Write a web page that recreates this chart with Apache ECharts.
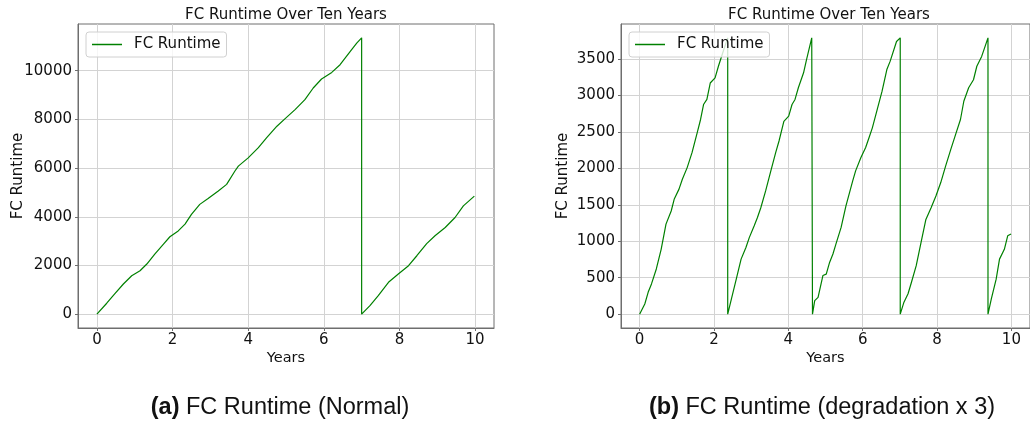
<!DOCTYPE html>
<html>
<head>
<meta charset="utf-8">
<script src="https://cdn.jsdelivr.net/npm/echarts@6/dist/echarts.min.js"></script>
<style>
  html, body { margin: 0; padding: 0; background: #fff; overflow: hidden; }
  #chart { width: 1030px; height: 426px; }
</style>
</head>
<body>
<div id="chart"></div>
<script>
// (a) normal
const yearsA = [0, 0.26, 0.47, 0.70, 0.92, 1.14, 1.32, 1.53, 1.76, 1.93, 2.15, 2.33, 2.50, 2.72, 2.94,
  3.21, 3.43, 3.65, 3.74, 4.0, 4.27, 4.49, 4.76, 4.97, 5.24, 5.50, 5.72, 5.94, 6.21, 6.43,
  6.70, 6.87, 7.0, 7.0, 7.22, 7.44, 7.71, 7.97, 8.24, 8.46, 8.72, 8.94, 9.21, 9.47, 9.69, 9.98]
const runtimeA = [0, 450, 830, 1240, 1580, 1785, 2060, 2470, 2880, 3180, 3420, 3700, 4100, 4510, 4750,
  5060, 5330, 5880, 6080, 6420, 6840, 7250, 7720, 8020, 8400, 8810, 9290, 9660, 9930, 10245,
  10790, 11130, 11350, 0, 350, 760, 1310, 1650, 1990, 2400, 2900, 3220, 3560, 3970, 4450, 4850]

// (b) degradation x 3
const yearsB = [0, 0.14, 0.23, 0.32, 0.45, 0.58, 0.71, 0.85, 0.93, 1.06, 1.15, 1.28, 1.41, 1.55, 1.64,
  1.72, 1.81, 1.90, 2.03, 2.12, 2.25, 2.37, 2.37,
  2.47, 2.60, 2.73, 2.86, 2.95, 3.08, 3.17, 3.26, 3.39, 3.53, 3.66, 3.75, 3.88, 4.01, 4.10, 4.18,
  4.27, 4.41, 4.49, 4.63, 4.65, 4.65,
  4.71, 4.80, 4.93, 5.02, 5.11, 5.20, 5.28, 5.42, 5.55, 5.73, 5.81, 5.95, 6.08, 6.17, 6.26, 6.39,
  6.52, 6.65, 6.74, 6.91, 7.01, 7.01,
  7.11, 7.22, 7.31, 7.44, 7.57, 7.70, 7.84, 7.97, 8.10, 8.23, 8.37, 8.50, 8.63, 8.72, 8.85, 8.98,
  9.07, 9.20, 9.29, 9.37, 9.37,
  9.46, 9.59, 9.68, 9.81, 9.90, 9.99]
const runtimeB = [0, 140, 300, 415, 620, 890, 1235, 1415, 1575, 1715, 1850, 2010, 2215, 2490, 2670,
  2875, 2945, 3170, 3240, 3400, 3605, 3790, 0,
  210, 480, 755, 915, 1050, 1210, 1325, 1460, 1690, 1965, 2215, 2375, 2645, 2715, 2875, 2945,
  3105, 3310, 3490, 3790, 3790, 0,
  185, 230, 530, 550, 710, 825, 960, 1190, 1485, 1825, 1965, 2145, 2285, 2420, 2555, 2805,
  3055, 3355, 3470, 3740, 3790, 0,
  165, 280, 435, 665, 985, 1300, 1460, 1620, 1805, 2030, 2260, 2465, 2670, 2920, 3105, 3215,
  3400, 3535, 3670, 3790, 0,
  210, 480, 755, 890, 1075, 1100]

const yearTicks = [0, 2, 4, 6, 8, 10]
const runtimeTicksA = [0, 2000, 4000, 6000, 8000, 10000]
const runtimeTicksB = [0, 500, 1000, 1500, 2000, 2500, 3000, 3500]

const chartTitle = 'FC Runtime Over Ten Years'
const seriesName = 'FC Runtime'

const font = 'DejaVu Sans'
const lineColor = '#008000'
const gridColor = '#d3d3d3'
const frameColor = '#6e6e6e'

const zip = (xs, ys) => xs.map((x, i) => [x, ys[i]])

const xAxisOf = (gridIndex) => ({
  type: 'value', gridIndex, min: -0.5, max: 10.5,
  name: 'Years', nameLocation: 'middle', nameGap: 23, nameMoveOverlap: false,
  nameTextStyle: { fontFamily: font, fontSize: 14.5, color: '#111' },
  axisLine: { show: true, onZero: false, lineStyle: { color: frameColor } },
  axisTick: { show: true, length: 3, customValues: yearTicks, lineStyle: { color: frameColor } },
  axisLabel: { customValues: yearTicks, margin: 5, fontFamily: font, fontSize: 15, color: '#111',
    formatter: v => String(v) },
  splitLine: { show: true, lineStyle: { color: gridColor, width: 1 } }
})

const yAxisOf = (gridIndex, min, max, ticks, gap) => ({
  type: 'value', gridIndex, min, max,
  name: 'FC Runtime', nameLocation: 'middle', nameGap: gap, nameMoveOverlap: false,
  nameTextStyle: { fontFamily: font, fontSize: 15, color: '#111' },
  axisLine: { show: true, onZero: false, lineStyle: { color: frameColor } },
  axisTick: { show: true, length: 3, customValues: ticks, lineStyle: { color: frameColor } },
  axisLabel: { customValues: ticks, margin: 6, fontFamily: font, fontSize: 15, color: '#111',
    formatter: v => String(v) },
  splitLine: { show: true, lineStyle: { color: gridColor, width: 1 } }
})

const legendAt = (left) => ({
  left, top: 32, z: 20, data: [seriesName],
  icon: 'rect', itemWidth: 30, itemHeight: 1.5,
  padding: [5, 6, 5, 6],
  backgroundColor: 'rgba(255,255,255,0.8)',
  borderColor: '#d0d0d0', borderWidth: 1, borderRadius: 3,
  textStyle: { fontFamily: font, fontSize: 15, color: '#111', padding: [0, 0, 0, 7] }
})

const textAt = (x, y, text, size, family, rich) => ({
  type: 'text', x, y, silent: true,
  style: {
    text, fontSize: size, fontFamily: family, fill: '#111',
    align: 'center', verticalAlign: 'middle', rich
  }
})

const captionRich = { b: { fontWeight: 'bold', fontSize: 23.5, fontFamily: 'Liberation Sans', fill: '#111' } }

const chart = echarts.init(document.getElementById('chart'), null, { renderer: 'canvas' })

chart.setOption({
  animation: false,
  grid: [
    { left: 78, top: 24, width: 416, height: 304, show: true, borderColor: frameColor, borderWidth: 1 },
    { left: 621, top: 24, width: 417, height: 304, show: true, borderColor: frameColor, borderWidth: 1 }
  ],
  xAxis: [xAxisOf(0), xAxisOf(1)],
  yAxis: [
    yAxisOf(0, -567.5, 11917.5, runtimeTicksA, 52),
    yAxisOf(1, -189.5, 3979.5, runtimeTicksB, 50)
  ],
  legend: [legendAt(86), legendAt(629)],
  series: [
    {
      name: seriesName, type: 'line', xAxisIndex: 0, yAxisIndex: 0,
      data: zip(yearsA, runtimeA), showSymbol: false, symbol: 'none',
      itemStyle: { color: lineColor }, lineStyle: { color: lineColor, width: 1.2 }
    },
    {
      name: seriesName, type: 'line', xAxisIndex: 1, yAxisIndex: 1,
      data: zip(yearsB, runtimeB), showSymbol: false, symbol: 'none',
      itemStyle: { color: lineColor }, lineStyle: { color: lineColor, width: 1.2 }
    }
  ],
  graphic: [
    textAt(286, 15, chartTitle, 15, font),
    textAt(829, 15, chartTitle, 15, font),
    textAt(280, 408, '{b|(a)} FC Runtime (Normal)', 23.5, 'Liberation Sans', captionRich),
    textAt(822, 408, '{b|(b)} FC Runtime (degradation x 3)', 23.5, 'Liberation Sans', captionRich)
  ]
})

window.addEventListener('resize', () => chart.resize())
</script>
</body>
</html>
